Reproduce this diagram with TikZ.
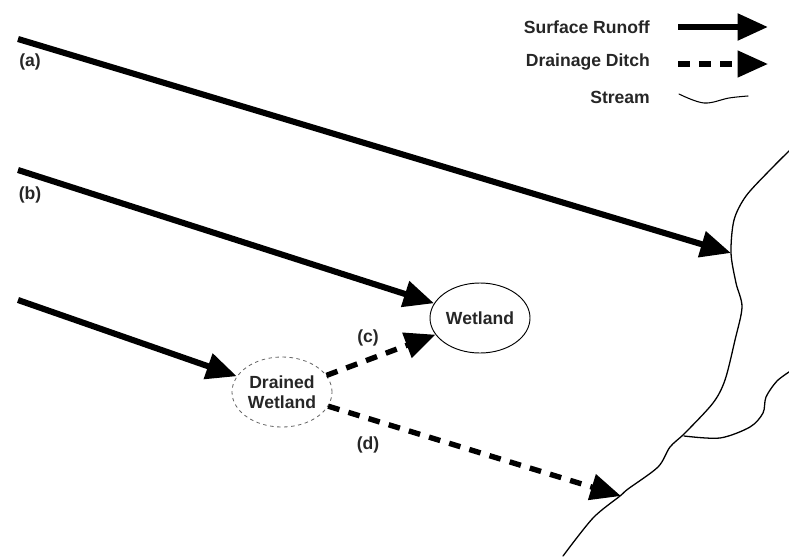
\documentclass[tikz,border=0pt]{standalone}
\usepackage{fontspec}
\setmainfont{Liberation Sans}
\usetikzlibrary{arrows.meta,shapes.geometric}

\tikzset{
  lbl/.style={font=\fontsize{15}{17}\selectfont\bfseries, text=black!85},
  runoff/.style={line width=5.2pt, -{Triangle[length=26pt,width=22pt]}},
  ditch/.style={line width=4.6pt, dash pattern=on 10pt off 8pt, -{Triangle[length=26pt,width=22pt]}},
  stream/.style={line width=1.1pt, line join=round, line cap=round},
  wetbox/.style={ellipse, draw, line width=0.8pt, minimum width=3cm, minimum height=2.1cm, inner sep=0pt, align=center, lbl}
}

\begin{document}
\begin{tikzpicture}[x=0.03cm,y=-0.03cm]
        \useasboundingbox (0,0) rectangle (789,556);
        % legend
        \node[lbl, anchor=east] (kRun) at (654,27) {Surface Runoff};
        \node[lbl, anchor=east] (kDitch) at (654,62) {Drainage Ditch};
        \node[lbl, anchor=east] (kStream) at (654,97) {Stream};
        \coordinate (kRunA) at (678,27);  \coordinate (kRunB) at (768,27);
        \coordinate (kDitchA) at (678,64); \coordinate (kDitchB) at (768,64);
        \draw[runoff] (kRunA) -- (kRunB);
        \draw[ditch] (kDitchA) -- (kDitchB);
        \draw[stream, line width=0.9pt] plot[smooth, tension=0.6] coordinates {(679,94) (704,103) (729,98) (748,96)};
        % stream
        \draw[stream] plot[smooth, tension=0.5] coordinates {(792,148) (770,170) (746,196) (734,220) (731,253) (736,283) (742,307) (735,340) (725,380) (713,403) (685,433) (670,447) (658,467) (628,489) (620,496) (593,518) (563,556)};
        \draw[stream] plot[smooth, tension=0.5] coordinates {(684,436) (720,438) (750,427) (763,413) (766,397) (777,381) (792,370)};
        \coordinate (sa) at (731,253);
        \coordinate (sd) at (621,496);
        % wetlands
        \node[wetbox] (wet) at (480,318) {Wetland};
        \node[wetbox, draw=black!60, dashed, line width=0.7pt] (dw) at (282,392) {Drained\\Wetland};
        % flows
        \coordinate (a0) at (18,39);
        \coordinate (b0) at (18,170);
        \coordinate (e0) at (18,300);
        \draw[runoff] (a0) -- (sa);
        \draw[runoff] (b0) -- (wet);
        \draw[runoff] (e0) -- (dw);
        \draw[ditch] (dw) -- (wet);
        \draw[ditch] (dw) -- (sd);
        \node[lbl] (la) at (30,62) {(a)};
        \node[lbl] (lb) at (30,195) {(b)};
        \node[lbl] (lc) at (368,338) {(c)};
        \node[lbl] (ld) at (368,445) {(d)};
    \end{tikzpicture}
\end{document}
